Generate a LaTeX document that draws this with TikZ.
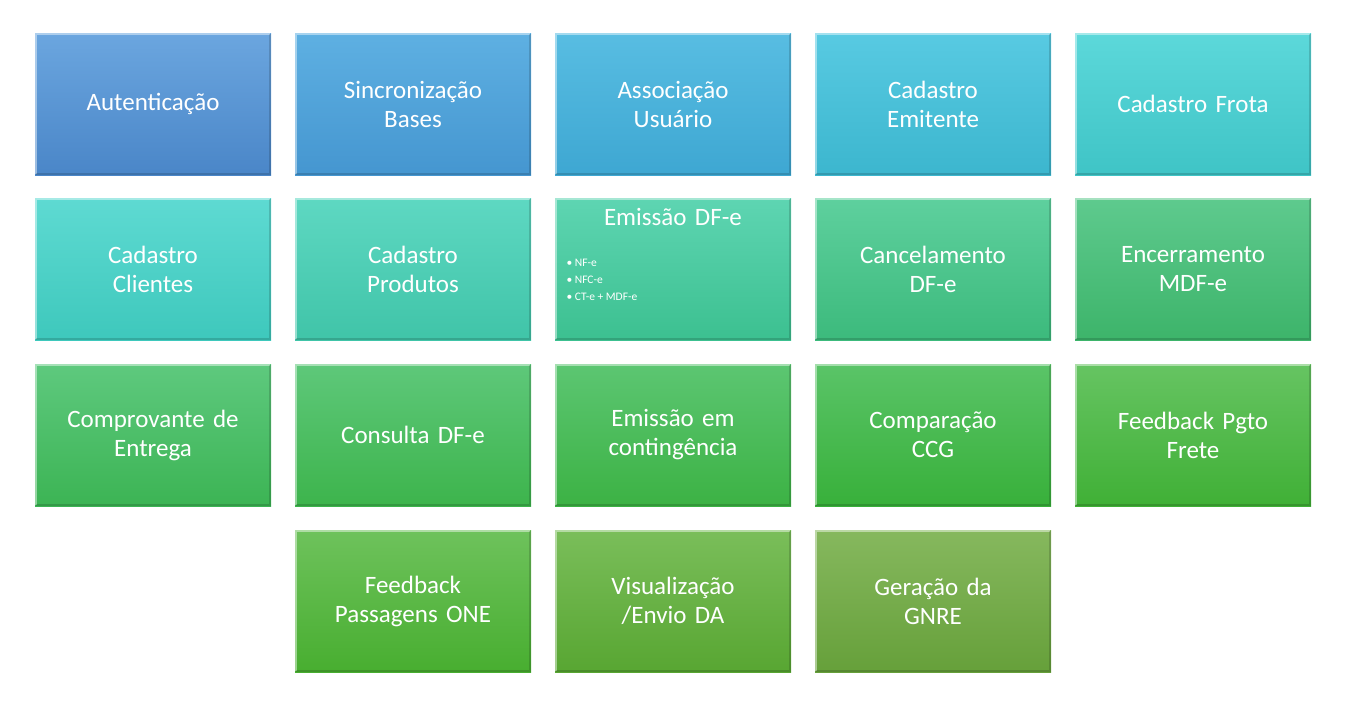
\documentclass[tikz,border=0pt]{standalone}
\usepackage{fontspec}
\setmainfont{Carlito}
\begin{document}
\begin{tikzpicture}[x=1pt,y=-1pt,
  lbl/.style={text=white,font=\fontsize{25}{29}\selectfont,align=center,text width=230pt}]
\useasboundingbox (0,0) rectangle (1352,707);
\newcommand\bx[6]{%
  \definecolor{ctop}{HTML}{#4}\definecolor{cbot}{HTML}{#5}%
  \shade[top color=ctop,bottom color=cbot] (#2,#3) rectangle ++(236,142);
  \draw[white,opacity=0.45,line width=1.5pt] (#2+1,#3+141) -- (#2+1,#3+1) -- (#2+235,#3+1);
  \draw[black,opacity=0.15,line width=1.5pt] (#2+1,#3+141) -- (#2+235,#3+141) -- (#2+235,#3+1);
  \node[lbl] (#1) at (#2+118,#3+71) {#6};}
\bx{a1}{35}{33}{6BA6DF}{4A86C8}{Autenticação}
\bx{a2}{295}{33}{5EB0E2}{4596D0}{Sincronização\\Bases}
\bx{a3}{555}{33}{58BDE2}{3EA7D2}{Associação\\Usuário}
\bx{a4}{815}{33}{58CAE2}{3CB6CE}{Cadastro\\Emitente}
\bx{a5}{1075}{33}{5CD8DA}{3FC4C6}{Cadastro Frota}
\bx{b1}{35}{198}{5EDAD2}{3EC8BC}{Cadastro\\Clientes}
\bx{b2}{295}{198}{5ED8C2}{40C4A8}{Cadastro\\Produtos}
\bx{b3}{555}{198}{5ED5B2}{3CC090}{}
\node[lbl,anchor=north] (b3t) at (673,205) {Emissão DF-e};
\node[text=white,font=\fontsize{11.5}{17}\selectfont,anchor=north west,align=left] (b3l) at (563,256)
  {\textbullet\ NF-e\\ \textbullet\ NFC-e\\ \textbullet\ CT-e + MDF-e};
\bx{b4}{815}{198}{5ED09E}{3CBA7C}{Cancelamento\\DF-e}
\bx{b5}{1075}{198}{5ECA8E}{3DB46A}{Encerramento\\MDF-e}
\bx{c1}{35}{364}{5EC97E}{3CB454}{Comprovante de\\Entrega}
\bx{c2}{295}{364}{5EC87A}{3DB44C}{Consulta DF-e}
\bx{c3}{555}{364}{5CC672}{3CB244}{Emissão em\\contingência}
\bx{c4}{815}{364}{5AC468}{38B03A}{Comparação\\CCG}
\bx{c5}{1075}{364}{66C462}{40B036}{Feedback Pgto\\Frete}
\bx{d2}{295}{530}{6EC25C}{48AE30}{Feedback\\Passagens ONE}
\bx{d3}{555}{530}{7ABE5A}{58A632}{Visualização\\/Envio DA}
\bx{d4}{815}{530}{86B85E}{66A03A}{Geração da\\GNRE}
\end{tikzpicture}
\end{document}
